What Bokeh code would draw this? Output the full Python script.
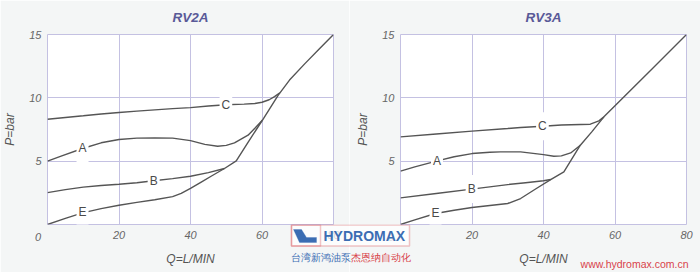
from bokeh.plotting import figure
from bokeh.layouts import row, column
from bokeh.models import Range1d, FixedTicker, Label, BoxAnnotation, PolyAnnotation
from bokeh.embed import file_html
from bokeh.resources import INLINE

# ---------------- data ----------------
x_ticks = [20, 40, 60, 80]
y_ticks = [5, 10, 15]

# RV2A
rv2a_c_q = [0, 5, 10, 15, 20, 25, 30, 35, 40, 45, 50, 55, 58, 60, 62, 63.5, 65]
rv2a_c_p = [8.31, 8.45, 8.58, 8.72, 8.84, 8.95, 9.05, 9.15, 9.23, 9.35, 9.45, 9.5, 9.55, 9.65, 9.85, 10.1, 10.4]
rv2a_a_q = [0, 4, 9.8, 15, 20, 25, 30, 35, 40, 44, 47.6, 50, 52.3, 56.1, 58, 60.1]
rv2a_a_p = [5.0, 5.42, 6.0, 6.45, 6.71, 6.82, 6.84, 6.82, 6.62, 6.33, 6.18, 6.25, 6.44, 7.05, 7.6, 8.23]
rv2a_b_q = [0, 5, 10, 15, 20, 25, 29.7, 35, 40, 45, 49.5]
rv2a_b_p = [2.52, 2.75, 2.95, 3.08, 3.18, 3.3, 3.45, 3.62, 3.81, 4.1, 4.42]
rv2a_e_q = [0, 5, 9.8, 15, 20, 25, 30, 35, 37.4, 40, 43, 46, 49.5, 52.8, 56, 60.1, 64.5, 67.7, 72, 76, 80]
rv2a_e_p = [0, 0.48, 0.92, 1.25, 1.52, 1.75, 1.95, 2.2, 2.45, 2.85, 3.35, 3.85, 4.42, 5.02, 6.45, 8.23, 10.2, 11.4, 12.7, 13.85, 15.0]

# RV3A
rv3a_c_q = [0, 10, 20, 30, 33.6, 39.8, 45, 53.1, 55.5, 56.9]
rv3a_c_p = [6.92, 7.15, 7.37, 7.58, 7.66, 7.76, 7.85, 7.92, 8.18, 8.5]
rv3a_a_q = [0, 4, 10.3, 15, 20, 25, 28, 33.6, 40, 42.9, 45, 47.6, 50.3]
rv3a_a_p = [4.21, 4.55, 5.02, 5.35, 5.6, 5.7, 5.73, 5.73, 5.52, 5.39, 5.42, 5.65, 6.26]
rv3a_b_q = [0, 10, 19.9, 30, 35, 40, 42]
rv3a_b_p = [2.1, 2.45, 2.79, 3.15, 3.3, 3.45, 3.55]
rv3a_e_q = [0, 4, 9.8, 15, 20, 25, 30, 33.6, 38, 42, 45.7, 50.3, 53.5, 56.9, 60, 70, 80]
rv3a_e_p = [0, 0.36, 0.87, 1.12, 1.34, 1.5, 1.66, 2.05, 2.84, 3.55, 4.16, 6.26, 7.31, 8.5, 9.37, 12.18, 15.0]

# curve label positions (Q, P)
rv2a_labels = {"A": (9.8, 6.02), "B": (29.7, 3.47), "C": (49.9, 9.47), "E": (9.8, 0.95)}
rv3a_labels = {"A": (10.2, 5.02), "B": (19.9, 2.8), "C": (39.7, 7.76), "E": (9.8, 0.9)}

# ---------------- style ----------------
BG = "#f4f6f6"
GRID = "#c4c1e2"
CURVE = "#555555"
TICK = "#666666"
TITLE = "#5a5a98"
FONT = "Liberation Sans"
H = 272
FRAME_TOP, FRAME_BOTTOM = 34, 224
FRAME_W = 286
BAND = H - FRAME_BOTTOM


def make_chart(title, curves, labels, w, bl, br):
    p = figure(width=w, height=H, output_backend="svg", toolbar_location=None,
               x_range=Range1d(0, 80), y_range=Range1d(0, 15),
               min_border_left=bl, min_border_right=br,
               min_border_top=FRAME_TOP, min_border_bottom=BAND)
    p.background_fill_color = "white"
    p.border_fill_color = BG
    p.outline_line_color = GRID
    p.outline_line_width = 1

    p.title.text = title
    p.title.align = "center"
    p.title.vertical_align = "top"
    p.title.text_font = FONT
    p.title.text_font_style = "bold italic"
    p.title.text_font_size = "13.5px"
    p.title.text_color = TITLE
    p.title.standoff = 16

    for ax in (p.xaxis[0], p.yaxis[0]):
        ax.axis_line_color = None
        ax.major_tick_line_color = None
        ax.minor_tick_line_color = None
        ax.major_tick_out = 0
        ax.major_tick_in = 0
        ax.minor_tick_out = 0
        ax.minor_tick_in = 0
        ax.major_label_text_font = FONT
        ax.major_label_text_font_style = "italic"
        ax.major_label_text_font_size = "11px"
        ax.major_label_text_color = TICK
        ax.axis_label_text_font = FONT
        ax.axis_label_text_font_style = "italic"
        ax.axis_label_text_font_size = "12px"
        ax.axis_label_text_color = "#555555"
    p.xaxis.ticker = FixedTicker(ticks=x_ticks)
    p.yaxis.ticker = FixedTicker(ticks=y_ticks)
    p.xaxis.axis_label = "Q=L/MIN"
    p.yaxis.axis_label = "P=bar"
    p.xaxis.major_label_standoff = 6
    p.xaxis.axis_label_standoff = 10
    p.yaxis.major_label_standoff = 6
    p.yaxis.axis_label_standoff = 9

    p.xgrid.grid_line_color = GRID
    p.ygrid.grid_line_color = GRID

    for q, v in curves:
        p.line(q, v, line_color=CURVE, line_width=1.4)

    for name, (q, v) in labels.items():
        p.add_layout(Label(x=q, y=v, text=name, text_align="center", text_baseline="middle",
                           text_font=FONT, text_font_size="12px", text_color="#4a4a4a",
                           background_fill_color="white", padding=(2, 7)))
    return p


W1 = 349
p1 = make_chart("RV2A",
                [(rv2a_c_q, rv2a_c_p), (rv2a_a_q, rv2a_a_p), (rv2a_b_q, rv2a_b_p), (rv2a_e_q, rv2a_e_p)],
                rv2a_labels, W1, 47, W1 - 47 - FRAME_W)
p2 = make_chart("RV3A",
                [(rv3a_c_q, rv3a_c_p), (rv3a_a_q, rv3a_a_p), (rv3a_b_q, rv3a_b_p), (rv3a_e_q, rv3a_e_p)],
                rv3a_labels, 700 - W1, 400 - W1, 700 - 400 - FRAME_W)

# ---------------- transparent overlay band (bottom 48 px): corner zeros + watermark ----------------
RED = "#d8434a"
BLUE = "#3b6db3"
ov = figure(width=700, height=BAND, output_backend="svg", toolbar_location=None,
            x_range=Range1d(0, 700), y_range=Range1d(H, FRAME_BOTTOM),
            x_axis_location=None, y_axis_location=None, title=None,
            min_border=0, margin=(-BAND, 0, 0, 0))
ov.background_fill_alpha = 0
ov.border_fill_alpha = 0
ov.outline_line_color = None
ov.grid.visible = False


def lab(cx, cy, s, color, size, style="normal", align="left"):
    ov.add_layout(Label(x=cx, y=cy, text=s, text_align=align, text_baseline="middle",
                        text_font=FONT, text_font_style=style, text_font_size=size,
                        text_color=color))


def box(x0, x1, y0, y1, fill_alpha=0.75):
    ov.add_layout(BoxAnnotation(left=x0, right=x1, top=y0, bottom=y1,
                                fill_color="white", fill_alpha=fill_alpha,
                                line_color=RED, line_width=1.5))


# corner zero labels of both charts
lab(37.5, 236.5, "0", TICK, "11px", "italic", "center")
lab(390.5, 236.5, "0", TICK, "11px", "italic", "center")

# logo
box(291, 409, 224.5, 245.5)
box(291, 320, 224.5, 245.5, fill_alpha=0)
ov.add_layout(PolyAnnotation(xs=[293, 301, 306, 316, 316, 299], ys=[229, 229, 237, 237, 242, 242],
                             fill_color=BLUE, fill_alpha=1, line_color=BLUE))
lab(323, 235, "HYDROMAX", BLUE, "14px", "bold")
lab(290, 257, "台湾新鸿油泵", BLUE, "10px")
lab(350, 257, "杰恩纳自动化", RED, "10px")
lab(688, 263, "www.hydromax.com.cn", RED, "10.5px", "normal", "right")

lay = column(row(p1, p2), ov)
open("out.html", "w").write(file_html(lay, INLINE))
